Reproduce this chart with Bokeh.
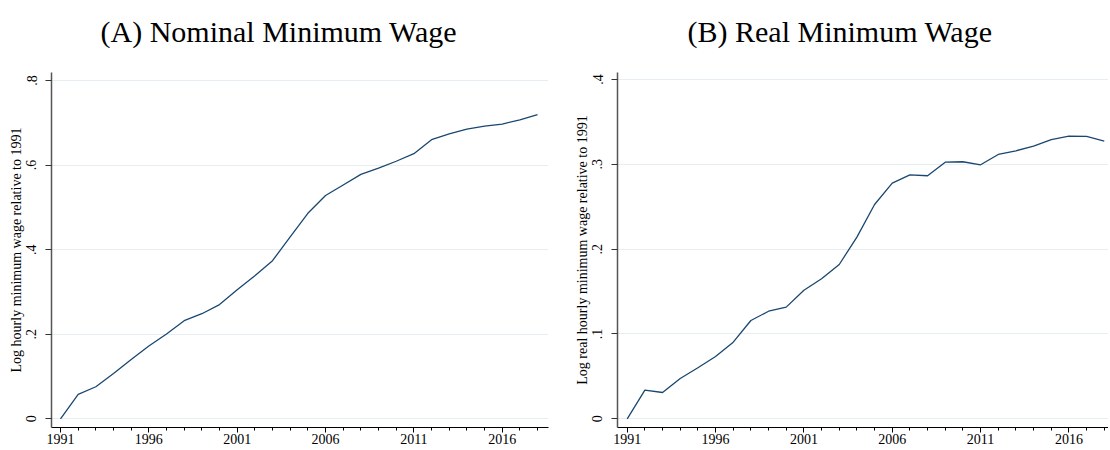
from bokeh.plotting import figure
from bokeh.models import FixedTicker, CustomJSTickFormatter
from bokeh.core.properties import value
from bokeh.layouts import row, column
from bokeh.embed import file_html
from bokeh.resources import INLINE

years = list(range(1991, 2019))
nominal = [0.0, 0.0576, 0.0757, 0.107, 0.140, 0.172, 0.2005, 0.232, 0.2485, 0.270,
           0.305, 0.338, 0.374, 0.430, 0.486, 0.528, 0.553, 0.578, 0.593, 0.609,
           0.627, 0.660, 0.674, 0.685, 0.692, 0.697, 0.707, 0.7195]
real = [0.0, 0.0337, 0.0310, 0.0475, 0.0601, 0.0734, 0.0903, 0.1159, 0.1268, 0.1316,
        0.1516, 0.1650, 0.1819, 0.2141, 0.2526, 0.2777, 0.2876, 0.2865, 0.3025, 0.3030,
        0.2994, 0.3116, 0.3159, 0.3213, 0.3292, 0.3331, 0.3328, 0.3272]
x_ticks = [1991, 1996, 2001, 2006, 2011, 2016]
nominal_yticks = [0, 0.2, 0.4, 0.6, 0.8]
real_yticks = [0, 0.1, 0.2, 0.3, 0.4]
titles = ["(A) Nominal Minimum Wage", "(B) Real Minimum Wage"]
ylabels = ["Log hourly minimum wage relative to 1991",
           "Log real hourly minimum wage relative to 1991"]

FONT = "Liberation Serif"
LINE = "#1a476f"
TOTAL_W = 1108
TITLE_H = 72

# strip holding the two panel titles (pixel-like coordinates)
ptitle = figure(frame_width=TOTAL_W, frame_height=TITLE_H,
                x_range=(0, TOTAL_W), y_range=(0, TITLE_H),
                x_axis_type=None, y_axis_type=None,
                output_backend="svg", toolbar_location=None,
                min_border=0, background_fill_color="white",
                border_fill_color="white")
ptitle.outline_line_color = None
ptitle.grid.visible = False
ptitle.text(x=[100, 687], y=[41, 41], text=titles,
            text_font=value(FONT), text_font_size="30px", text_color="black",
            text_baseline="alphabetic", text_align="left")


def make(ylabel, vals, yticks, x_range, y_range, fw, mbl, mbr):
    p = figure(frame_width=fw, frame_height=355, x_range=x_range, y_range=y_range,
               output_backend="svg", toolbar_location=None,
               min_border_left=mbl, min_border_right=mbr,
               min_border_top=0, min_border_bottom=23,
               background_fill_color="white", border_fill_color="white")
    p.outline_line_color = None
    p.line(years, vals, line_color=LINE, line_width=1.3)

    xa = p.xaxis[0]
    xa.ticker = FixedTicker(ticks=x_ticks, minor_ticks=years)
    xa.axis_line_color = "black"
    xa.axis_line_width = 1
    xa.major_tick_out = 5
    xa.major_tick_in = 0
    xa.minor_tick_out = 3
    xa.minor_tick_in = 0
    xa.major_tick_line_color = "black"
    xa.minor_tick_line_color = "black"
    xa.major_label_standoff = 1
    xa.major_label_text_font = FONT
    xa.major_label_text_font_size = "14px"
    xa.major_label_text_color = "black"

    ya = p.yaxis[0]
    ya.ticker = FixedTicker(ticks=yticks, minor_ticks=[])
    ya.formatter = CustomJSTickFormatter(
        code="return tick == 0 ? '0' : tick.toFixed(1).replace(/^0/, '');")
    ya.axis_line_color = "#555555"
    ya.axis_line_width = 1.5
    ya.major_tick_out = 6
    ya.major_tick_in = 0
    ya.major_tick_line_color = "#333333"
    ya.minor_tick_line_color = None
    ya.major_label_orientation = "vertical"
    ya.major_label_standoff = 9
    ya.major_label_text_font = FONT
    ya.major_label_text_font_size = "14px"
    ya.major_label_text_color = "black"
    ya.axis_label = ylabel
    ya.axis_label_text_font = FONT
    ya.axis_label_text_font_size = "14px"
    ya.axis_label_text_font_style = "normal"
    ya.axis_label_text_color = "black"
    ya.axis_label_standoff = 0

    p.xgrid.grid_line_color = None
    p.ygrid.ticker = FixedTicker(ticks=yticks, minor_ticks=[])
    p.ygrid.grid_line_color = "#E6EEF1"
    p.ygrid.grid_line_width = 1
    return p


pa = make(ylabels[0], nominal, nominal_yticks,
          (1990.49, 2018.62), (-0.0206, 0.8189), 497, 51, 19)
pb = make(ylabels[1], real, real_yticks,
          (1990.45, 2018.24), (-0.01026, 0.4082), 491, 50, 0)

layout = column(ptitle, row(pa, pb), spacing=0)
open("out.html", "w").write(file_html(layout, INLINE))
